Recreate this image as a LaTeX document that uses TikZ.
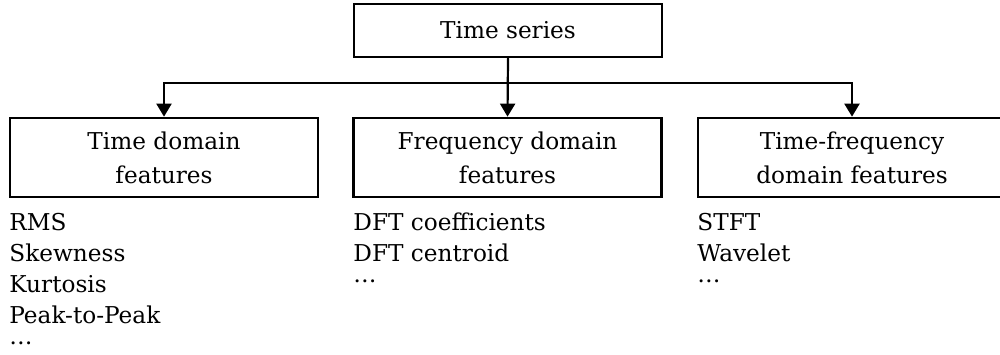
\documentclass[tikz,border=0pt]{standalone}
\usepackage{fontspec}
\setmainfont{DejaVu Serif}
\usetikzlibrary{arrows.meta}
\tikzset{
  box/.style={draw, line width=1.35pt, inner sep=0pt, minimum width=154pt,
    minimum height=39.5pt, align=center, font=\fontsize{11.6}{17}\selectfont},
  topbox/.style={box, minimum height=26.5pt},
  arr/.style={line width=1.1pt, -{Triangle[width=7.5pt,length=6.5pt]}},
  items/.style={anchor=north west, inner sep=0pt, align=left,
    font=\fontsize{11.6}{15.5}\selectfont},
}
\begin{document}
\begin{tikzpicture}[x=0.5pt, y=-0.5pt]
  \useasboundingbox (0,0) rectangle (1000,354);
  \clip (0,0) rectangle (1000,354);

  % root and the three feature families
  \node[topbox] (ts)   at (508,30.5)    {Time series};
  \node[box]    (tdom) at (164,157.5)   {Time domain\\features};
  \node[box]    (fdom) at (507.5,157.5) {Frequency domain\\features};
  \node[box]    (tfd)  at (852,157.5)   {Time-frequency\\domain features};

  % branching connectors
  \draw[arr] (ts.south) -- (fdom.north);
  \draw[arr] (ts.south) -- ++(0,25) -| (tdom.north);
  \draw[arr] (ts.south) -- ++(0,25) -| (tfd.north);

  % example features listed under each family
  \node[items] (tlist) at (9,213)   {RMS\\Skewness\\Kurtosis\\Peak-to-Peak\\[-5pt]\dots};
  \node[items] (flist) at (353,212) {DFT coefficients\\DFT centroid\\[-5pt]\dots};
  \node[items] (tflist) at (697,213) {STFT\\Wavelet\\[-5pt]\dots};
\end{tikzpicture}
\end{document}
